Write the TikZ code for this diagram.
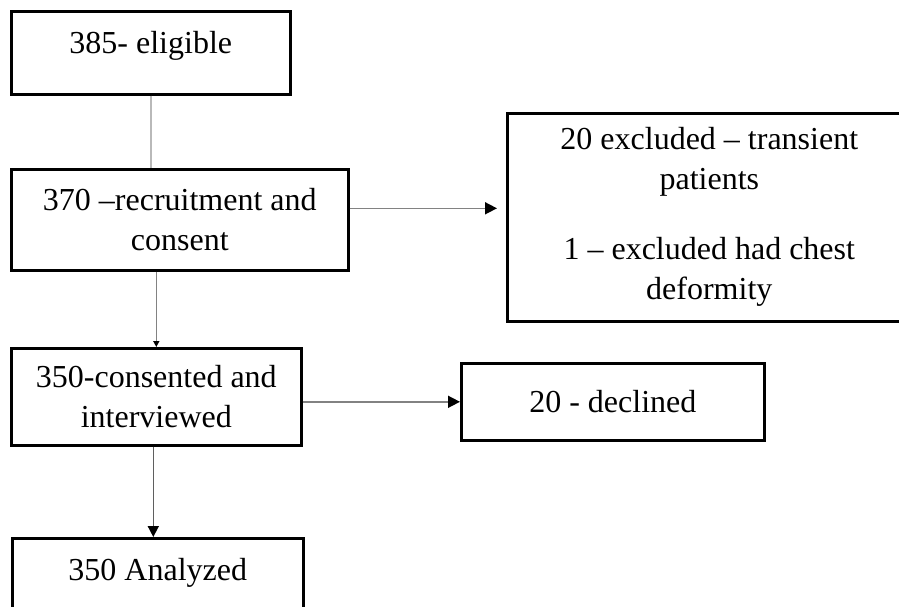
\documentclass[tikz,border=0pt]{standalone}
\usepackage{fontspec}
\setmainfont{Liberation Serif}
\usetikzlibrary{arrows.meta}
\definecolor{linelight}{RGB}{185,185,185}
\definecolor{linemid}{RGB}{130,130,130}
\definecolor{linedark}{RGB}{95,95,95}
\begin{document}
\begin{tikzpicture}[x=1pt,y=1pt,
    box/.style={draw,line width=2.6pt,inner sep=0pt,align=center,font=\fontsize{32}{40}\selectfont},
    highline/.style={text height=23pt,text depth=21pt},
    tip/.style={-{Triangle[length=#1,width=#1,color=black]}}]
  \clip (0,0) rectangle (899,-606);
  \fill[white] (0,0) rectangle (899,-606);
  \node[box,highline,anchor=north west,minimum width=279pt,minimum height=83pt] (eligible) at (10,-10) {385- eligible};
  \node[box,anchor=north west,minimum width=337pt,minimum height=101pt] (recruit) at (10,-168) {370 --recruitment and\\consent};
  \node[box,anchor=north west,minimum width=404pt,minimum height=208pt] (excluded) at (506,-112)
    {20 excluded -- transient\\patients\\[30pt]1 -- excluded had chest\\deformity};
  \node[box,anchor=north west,minimum width=290pt,minimum height=97pt] (interview) at (10,-347) {350-consented and\\interviewed};
  \node[box,anchor=north west,minimum width=303pt,minimum height=77pt] (declined) at (460,-362) {20 - declined};
  \node[box,highline,anchor=north west,minimum width=291pt,minimum height=83pt] (analyzed) at (11,-537) {350 Analyzed};
  \coordinate (exclin) at ([yshift=9pt]excluded.west);
  %connectors
  \draw[linelight,line width=1.6pt] (eligible.south) -- (recruit.north -| eligible.south);
  \draw[linemid,line width=1.4pt,tip=6pt] (recruit.south -| interview.north) -- (interview.north);
  \draw[linemid,line width=1.6pt,tip=12pt,shorten >=9pt] (recruit.east |- exclin) -- (exclin);
  \draw[linemid,line width=1.6pt,tip=12pt] (interview.east |- declined.west) -- (declined.west);
  \draw[linedark,line width=1.6pt,tip=11pt] ([xshift=-3pt]interview.south) -- ([xshift=-3pt]interview.south |- analyzed.north);
\end{tikzpicture}
\end{document}
